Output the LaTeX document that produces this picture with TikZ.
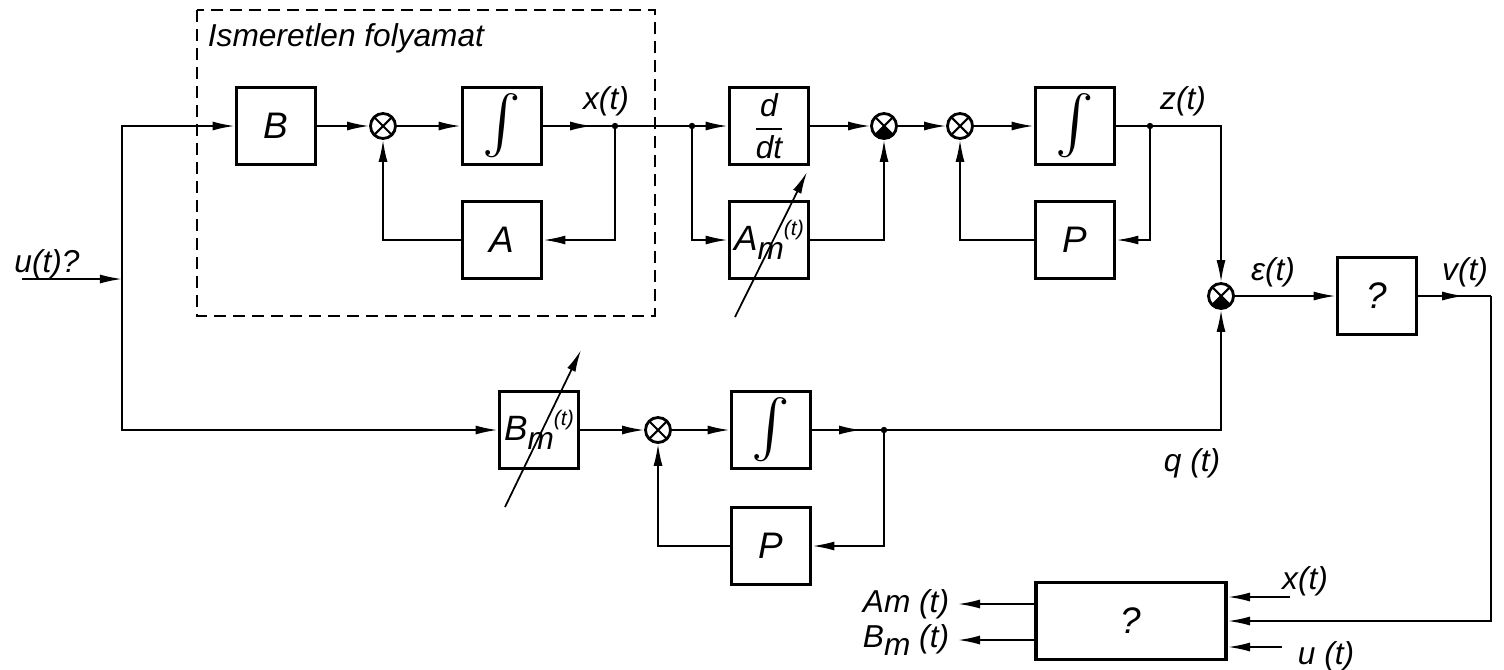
\documentclass[tikz,border=0pt]{standalone}
\usepackage{fontspec}
\usepackage{graphicx}
\setmainfont{Liberation Sans}
\usetikzlibrary{arrows.meta, positioning, decorations.markings}

\newcommand{\intsym}{\resizebox{!}{0.48cm}{$\int$}}

\begin{document}
\begin{tikzpicture}[x=0.01cm, y=-0.01cm, line width=0.5pt,
    >={Latex[length=2.2mm, width=0.9mm]},
    blk/.style={draw, line width=1.1pt, minimum width=0.79cm, minimum height=0.77cm,
                inner sep=0pt, font=\itshape\fontsize{10.5}{12}\selectfont},
    sumj/.style={circle, draw, line width=0.8pt, minimum size=0.25cm, inner sep=0pt,
                 path picture={\draw[line width=0.6pt]
                   (path picture bounding box.north west) -- (path picture bounding box.south east)
                   (path picture bounding box.north east) -- (path picture bounding box.south west);}},
    negj/.style={sumj, path picture={\draw[line width=0.6pt]
                   (path picture bounding box.north west) -- (path picture bounding box.south east)
                   (path picture bounding box.north east) -- (path picture bounding box.south west);
                 \fill (path picture bounding box.center) -- (path picture bounding box.south west)
                   -- (path picture bounding box.south east) -- cycle;}},
    lbl/.style={font=\itshape\fontsize{9}{11}\selectfont, inner sep=0pt},
    midarr/.style={postaction={decorate},
                   decoration={markings, mark=at position #1 with {\arrow{>}}}}]
  \useasboundingbox (0,0) rectangle (1504,669);

  % Unknown process
  \draw[dash pattern=on 1.2mm off 0.7mm] (197,10) rectangle (655,316);
  \node[lbl, anchor=west] (title) at (207,38) {Ismeretlen folyamat};
  \node[blk] (B) at (276,126) {B};
  \node[sumj] (s1) at (383,126) {};
  \node[blk] (int1) at (502,126) {\intsym};
  \node[blk] (A) at (502,240) {A};
  \coordinate (dx) at (615,126);

  % Model, upper branch
  \coordinate (dx2) at (692,126);
  \node[blk, font=\itshape\fontsize{9}{11}\selectfont] (ddt) at (769,126)
       {$\displaystyle\frac{\textit{d}}{\textit{dt}}$};
  \node[blk, font=\itshape\fontsize{10}{12}\selectfont] (Am) at (769,240)
       {A\raisebox{-0.5ex}{\fontsize{9}{10}\selectfont m}\raisebox{0.8ex}{\fontsize{6}{7}\selectfont(t)}};
  \node[negj] (s2) at (884,126) {};
  \node[sumj] (s3) at (960,126) {};
  \node[blk] (int2) at (1075,126) {\intsym};
  \node[blk] (P1) at (1075,240) {P};
  \coordinate (dz) at (1150,126);
  \coordinate (zc) at (1221,126);

  % Error and identification
  \node[negj] (se) at (1221,296) {};
  \node[blk] (qb) at (1377,296) {?};
  \coordinate (vc) at (1491,296);
  \node[blk, minimum width=1.9cm] (est) at (1131,621) {?};

  % Model, lower branch
  \coordinate (uin) at (22,279);
  \coordinate (ju) at (122,279);
  \node[blk, font=\itshape\fontsize{10}{12}\selectfont] (Bm) at (539,430)
       {B\raisebox{-0.5ex}{\fontsize{9}{10}\selectfont m}\raisebox{0.8ex}{\fontsize{6}{7}\selectfont(t)}};
  \node[sumj] (s4) at (658,430) {};
  \node[blk] (int3) at (771,430) {\intsym};
  \node[blk] (P2) at (771,546) {P};
  \coordinate (dq) at (884,430);
  \coordinate (qc) at (1221,430);

  % Input
  \draw[->] (uin) -- (ju);
  \draw[->] (ju) |- (B.west);
  \draw[->] (ju) |- (Bm.west);
  \node[lbl] (lu) at (47,264) {u(t)?};

  % Process signal flow
  \draw[->] (B) -- (s1);
  \draw[->] (s1) -- (int1);
  \draw[midarr=0.68] (int1.east) -- (dx);
  \draw[->] (dx) |- (A.east);
  \draw[->] (A.west) -| (s1.south);
  \fill (dx) circle[radius=3.2];
  \node[lbl] (lx) at (606,101) {x(t)};

  % Upper model
  \draw (dx) -- (dx2);
  \draw[->] (dx2) -- (ddt);
  \draw[->] (dx2) |- (Am.west);
  \fill (dx2) circle[radius=3.2];
  \draw[->] (ddt) -- (s2);
  \draw[->] (Am.east) -| (s2.south);
  \draw[->] (s2) -- (s3);
  \draw[->] (s3) -- (int2);
  \draw (int2.east) -- (dz);
  \draw[->] (dz) |- (P1.east);
  \draw[->] (P1.west) -| (s3.south);
  \fill (dz) circle[radius=3.2];
  \draw[->] (dz) -- (zc) -- (se.north);
  \node[lbl] (lz) at (1183,101) {z(t)};
  \coordinate (ama) at (735,317);
  \coordinate (amb) at (807,172);
  \draw[->] (ama) -- (amb);

  % Lower model
  \draw[->] (Bm) -- (s4);
  \draw[->] (s4) -- (int3);
  \draw[midarr=0.68] (int3.east) -- (dq);
  \draw[->] (dq) |- (P2.east);
  \draw[->] (P2.west) -| (s4.south);
  \fill (dq) circle[radius=3.2];
  \draw[->] (dq) -- (qc) -- (se.south);
  \node[lbl] (lq) at (1192,463) {q (t)};
  \coordinate (bma) at (505,507);
  \coordinate (bmb) at (581,350);
  \draw[->] (bma) -- (bmb);

  % Error, adaption
  \draw[->] (se) -- (qb);
  \node[lbl] (le) at (1273,272) {ε(t)};
  \draw[midarr=0.63] (qb.east) -- (vc);
  \draw[->] (vc) |- (est.east);
  \node[lbl] (lv) at (1465,272) {v(t)};
  \coordinate (xin) at (1290,597);
  \coordinate (uin2) at (1282,647);
  \draw[->] (xin) -- (xin -| est.east);
  \draw[->] (uin2) -- (uin2 -| est.east);
  \node[lbl] (lx2) at (1305,581) {x(t)};
  \node[lbl] (lu2) at (1326,656) {u (t)};
  \coordinate (amo) at (958,604);
  \coordinate (bmo) at (958,640);
  \draw[->] (amo -| est.west) -- (amo);
  \draw[->] (bmo -| est.west) -- (bmo);
  \node[lbl] (lam) at (906,604) {Am (t)};
  \node[lbl] (lbm) at (906,640) {B\raisebox{-0.45ex}{m} (t)};
\end{tikzpicture}
\end{document}
